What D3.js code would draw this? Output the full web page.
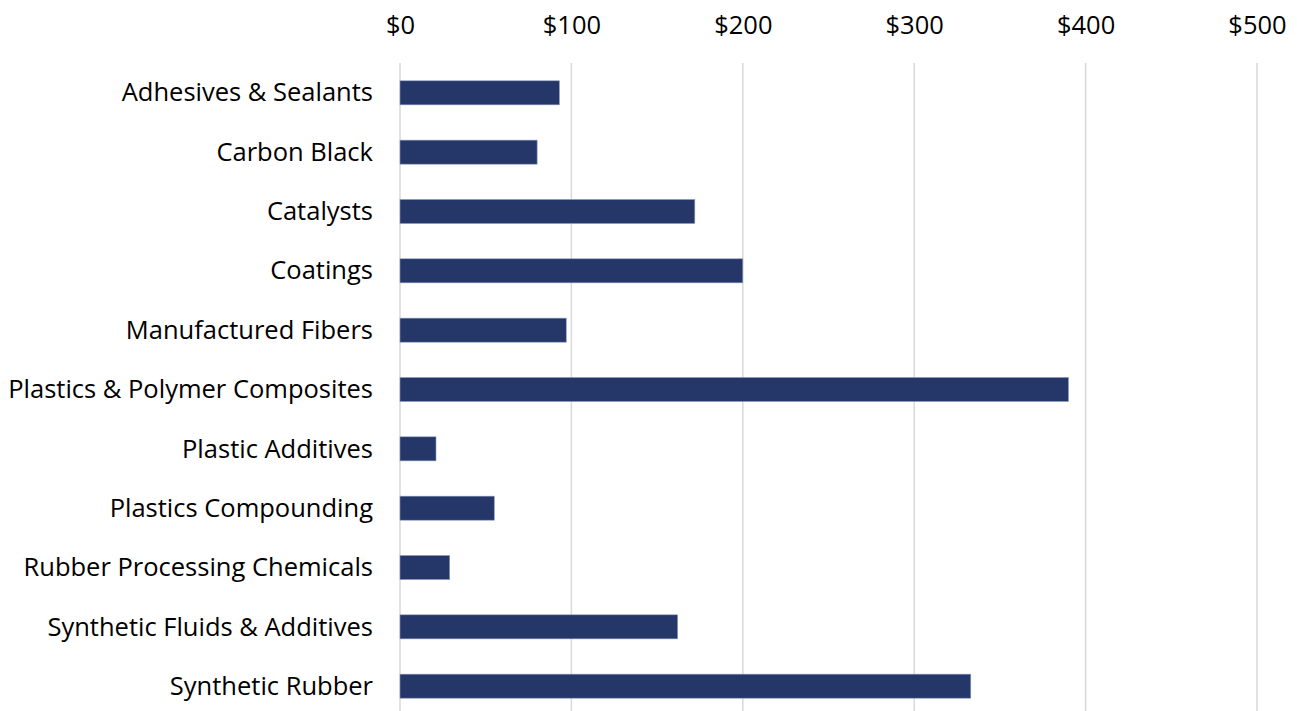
<!DOCTYPE html>
<html>
<head>
<meta charset="utf-8">
<script src="https://cdn.jsdelivr.net/npm/d3@7"></script>
<style>
  html, body { margin: 0; padding: 0; background: #fff; }
  svg { display: block; }
  .tick text { font-family: "Open Sans", Lato, sans-serif; fill: #000; }
</style>
</head>
<body>
<svg id="chart" width="1297" height="711"></svg>
<script>
// Shipment value by segment, in dollars (millions)
const categories = [
  "Adhesives & Sealants",
  "Carbon Black",
  "Catalysts",
  "Coatings",
  "Manufactured Fibers",
  "Plastics & Polymer Composites",
  "Plastic Additives",
  "Plastics Compounding",
  "Rubber Processing Chemicals",
  "Synthetic Fluids & Additives",
  "Synthetic Rubber"
];
const values = [93, 80, 172, 200, 97, 390, 21, 55, 29, 162, 333];
const xTicks = [0, 100, 200, 300, 400, 500];

const svg = d3.select("#chart");
const margin = { left: 400, right: 40, top: 63 };
const plotW = 857;
const plotBottom = 716;

const x = d3.scaleLinear().domain([0, 500]).range([margin.left, margin.left + plotW]);
const y = d3.scaleBand().domain(categories).range([margin.top, plotBottom]).paddingInner(0.595).paddingOuter(0.3);

// vertical gridlines
svg.append("g")
  .selectAll("line")
  .data(xTicks)
  .join("line")
  .attr("x1", d => x(d)).attr("x2", d => x(d))
  .attr("y1", margin.top).attr("y2", 711)
  .attr("stroke", "#d9d9d9")
  .attr("stroke-width", 1.5);

// bars
svg.append("g")
  .selectAll("rect")
  .data(categories)
  .join("rect")
  .attr("x", x(0))
  .attr("y", d => y(d))
  .attr("width", (d, i) => x(values[i]) - x(0))
  .attr("height", y.bandwidth())
  .attr("fill", "#253668")
  .attr("stroke", "#8e9bc0")
  .attr("stroke-width", 0.6);

// top value axis
const xAxis = d3.axisTop(x).tickValues(xTicks).tickFormat(d => "$" + d).tickSize(0).tickPadding(0);
svg.append("g")
  .attr("transform", "translate(0,34)")
  .call(xAxis)
  .call(g => g.select(".domain").remove())
  .call(g => g.selectAll("text").attr("font-size", 25.5).attr("dy", 0));

// category axis
const yAxis = d3.axisLeft(y).tickSize(0).tickPadding(27);
svg.append("g")
  .attr("transform", `translate(${margin.left},0)`)
  .call(yAxis)
  .call(g => g.select(".domain").remove())
  .call(g => g.selectAll("text").attr("font-size", 25.5).attr("dy", "0.34em"));
</script>
</body>
</html>
